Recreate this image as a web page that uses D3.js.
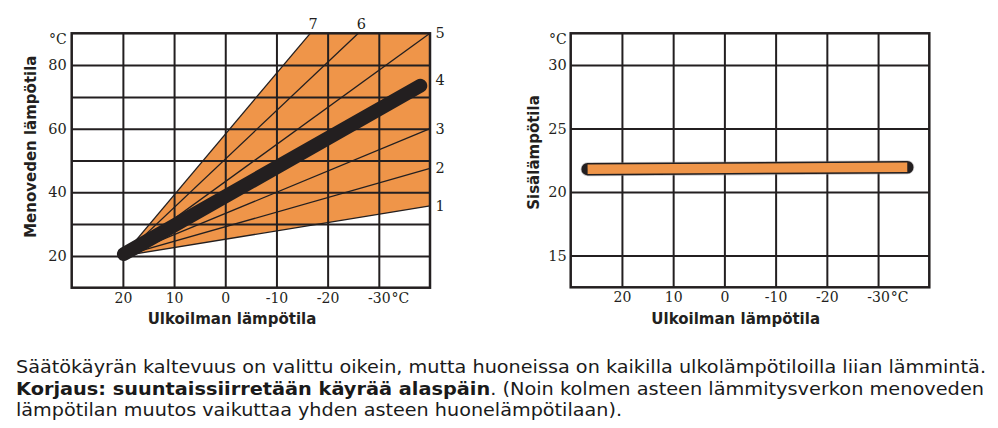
<!DOCTYPE html>
<html>
<head>
<meta charset="utf-8">
<script src="https://cdn.jsdelivr.net/npm/d3@7"></script>
<style>
  body { margin: 0; background: #fff; }
  svg { display: block; }
</style>
</head>
<body>
<svg id="chart" width="998" height="428"></svg>
<script>
// Outdoor temperature ticks (°C), shared by both panels
const outdoorTicks = [20, 10, 0, -10, -20, -30];

// Supply water temperature panel
const supplyTicks = [20, 40, 60, 80];
const supplyGrid = [20, 30, 40, 50, 60, 70, 80];

// Heating curves: all fan out from a common pivot to their end points [outdoor, supply]
const curvePivot = [20, 20];
const curveIds = ["1", "2", "3", "5", "6", "7"];
const curveEnds = [[-40, 35.7], [-40, 47.5], [-40, 60], [-40, 90], [-26, 90], [-16.6, 90]];
const curve4Label = [-40, 75.4];

// Currently selected curve (too warm)
const currentCurve = [[19.8, 20.6], [-38.1, 73.5]];

// Indoor temperature panel
const indoorTicks = [15, 20, 25, 30];
const indoorLine = [[26.7, 21.8], [-35.7, 21.95]];

// Caption
const captionLine1 = "Säätökäyrän kaltevuus on valittu oikein, mutta huoneissa on kaikilla ulkolämpötiloilla liian lämmintä.";
const captionBold = "Korjaus: suuntaissiirretään käyrää alaspäin";
const captionLine2 = ". (Noin kolmen asteen lämmitysverkon menoveden";
const captionLine3 = "lämpötilan muutos vaikuttaa yhden asteen huonelämpötilaan).";

const INK = "#231f20";
const ORANGE = "#ef9549";
const SERIF = "'DejaVu Serif', 'Liberation Serif', serif";
const SANS = "'DejaVu Sans', Verdana, sans-serif";
const fmt = d => String(d);

const svg = d3.select("#chart");

function panel(opts) {
  const g = svg.append("g");
  const x = d3.scaleLinear().domain([30, -40]).range(opts.xRange);
  const y = d3.scaleLinear().domain(opts.yDomain).range(opts.yRange);
  const [x0, x1] = opts.xRange;
  const [y0, y1] = opts.yRange;

  const marks = g.append("g");
  const grid = g.append("g");

  // grid lines
  grid.append("g")
    .attr("transform", `translate(0,${y0})`)
    .call(d3.axisBottom(x).tickValues(outdoorTicks).tickSize(-(y0 - y1)).tickFormat(""))
    .call(s => s.select(".domain").remove())
    .call(s => s.selectAll("line").attr("stroke", INK).attr("stroke-width", 2));
  grid.append("g")
    .attr("transform", `translate(${x0},0)`)
    .call(d3.axisLeft(y).tickValues(opts.yGrid).tickSize(-(x1 - x0)).tickFormat(""))
    .call(s => s.select(".domain").remove())
    .call(s => s.selectAll("line").attr("stroke", INK).attr("stroke-width", 2));

  // tick labels
  const xAxis = g.append("g")
    .attr("transform", `translate(0,${y0})`)
    .call(d3.axisBottom(x).tickValues(outdoorTicks).tickSize(0).tickPadding(5).tickFormat(fmt));
  xAxis.select(".domain").remove();
  xAxis.selectAll("text")
    .attr("font-family", SERIF).attr("font-size", 14).attr("fill", INK);
  // "-30" keeps its centre on the tick, the unit follows it
  xAxis.selectAll("text").filter(d => d === -30).each(function () {
    const t = d3.select(this);
    const w = this.getComputedTextLength();
    t.attr("text-anchor", "start").attr("x", -w / 2);
    t.append("tspan").attr("dx", 1).text("°C");
  });

  const yAxis = g.append("g")
    .attr("transform", `translate(${x0},0)`)
    .call(d3.axisLeft(y).tickValues(opts.yTicks).tickSize(0).tickPadding(opts.yPad).tickFormat(fmt));
  yAxis.select(".domain").remove();
  yAxis.selectAll("text")
    .attr("font-family", SERIF).attr("font-size", 14.5).attr("fill", INK);

  g.append("text")
    .attr("x", x0 - opts.yPad).attr("y", y1 + 11)
    .attr("text-anchor", "end")
    .attr("font-family", SERIF).attr("font-size", 14).attr("fill", INK)
    .text("°C");

  // axis titles
  g.append("text")
    .attr("x", opts.xTitleX).attr("y", 324)
    .attr("text-anchor", "middle")
    .attr("font-family", SANS).attr("font-weight", "bold").attr("font-size", 15).attr("fill", INK)
    .text("Ulkoilman lämpötila");
  g.append("text")
    .attr("transform", `translate(${opts.yTitleX},${opts.yTitleY}) rotate(-90)`)
    .attr("text-anchor", "middle")
    .attr("font-family", SANS).attr("font-weight", "bold").attr("font-size", 15).attr("fill", INK)
    .text(opts.yTitle);

  // frame on top
  g.append("rect")
    .attr("x", x0).attr("y", y1)
    .attr("width", x1 - x0).attr("height", y0 - y1)
    .attr("fill", "none").attr("stroke", INK).attr("stroke-width", 2.5);

  return { g, marks, x, y };
}

// ---- Left panel: supply water temperature vs outdoor temperature
const L = panel({
  xRange: [71.7, 430], yDomain: [10, 90], yRange: [287.7, 33.3],
  yTicks: supplyTicks, yGrid: supplyGrid, yPad: 5,
  xTitleX: 232, yTitleX: 35.5, yTitleY: 146.7, yTitle: "Menoveden lämpötila"
});

// shaded fan between the flattest and steepest curve
const fan = [curvePivot, curveEnds[5], [-40, 90], curveEnds[0]];
L.marks.append("path")
  .attr("d", d3.line().x(d => L.x(d[0])).y(d => L.y(d[1]))(fan) + "Z")
  .attr("fill", ORANGE);

const curveG = svg.append("g");
curveG.selectAll("line.curve")
  .data(curveEnds)
  .join("line")
  .attr("class", "curve")
  .attr("x1", L.x(curvePivot[0])).attr("y1", L.y(curvePivot[1]))
  .attr("x2", d => L.x(d[0])).attr("y2", d => L.y(d[1]))
  .attr("stroke", INK).attr("stroke-width", 1.3);

curveG.append("path")
  .attr("d", d3.line().x(d => L.x(d[0])).y(d => L.y(d[1]))(currentCurve))
  .attr("fill", "none").attr("stroke", INK).attr("stroke-width", 14)
  .attr("stroke-linecap", "round");

// curve numbers
const labelData = curveIds.map((id, i) => ({ id, p: curveEnds[i] })).concat([{ id: "4", p: curve4Label }]);
curveG.selectAll("text.cl")
  .data(labelData)
  .join("text")
  .attr("class", "cl")
  .attr("font-family", SERIF).attr("font-size", 14.5).attr("fill", INK)
  .each(function (d) {
    const t = d3.select(this);
    if (d.p[1] >= 90 && d.p[0] > -40) {
      t.attr("x", L.x(d.p[0]) + 3).attr("y", 29).attr("text-anchor", "middle");
    } else {
      t.attr("x", 435.5).attr("y", L.y(d.p[1]) + 5).attr("text-anchor", "start");
    }
  })
  .text(d => d.id);

// ---- Right panel: indoor temperature vs outdoor temperature
const R = panel({
  xRange: [570.7, 929.3], yDomain: [12.5, 32.5], yRange: [287.3, 33.3],
  yTicks: indoorTicks, yGrid: indoorTicks, yPad: 4,
  xTitleX: 735.7, yTitleX: 538.5, yTitleY: 152.5, yTitle: "Sisälämpötila"
});

const indoorPath = d3.line().x(d => R.x(d[0])).y(d => R.y(d[1]))(indoorLine);
const band = svg.append("g");
band.append("path").attr("d", indoorPath)
  .attr("fill", "none").attr("stroke", "#8a8687").attr("stroke-opacity", 0.45)
  .attr("stroke-width", 14).attr("stroke-linecap", "round");
band.append("path").attr("d", indoorPath)
  .attr("fill", "none").attr("stroke", INK)
  .attr("stroke-width", 12.4).attr("stroke-linecap", "round");
band.append("path").attr("d", indoorPath)
  .attr("fill", "none").attr("stroke", ORANGE)
  .attr("stroke-width", 9.4).attr("stroke-linecap", "butt");

// ---- Caption
const cap = svg.append("g")
  .attr("font-family", SANS).attr("font-size", 17).attr("fill", "#1a1a1a");
cap.append("text").attr("x", 16).attr("y", 373)
  .attr("textLength", 970).attr("lengthAdjust", "spacingAndGlyphs")
  .text(captionLine1);
const l2 = cap.append("text").attr("x", 16).attr("y", 395)
  .attr("textLength", 968).attr("lengthAdjust", "spacingAndGlyphs");
l2.append("tspan").attr("font-weight", "bold").text(captionBold);
l2.append("tspan").text(captionLine2);
cap.append("text").attr("x", 16).attr("y", 416)
  .attr("textLength", 606).attr("lengthAdjust", "spacingAndGlyphs")
  .text(captionLine3);
</script>
</body>
</html>
